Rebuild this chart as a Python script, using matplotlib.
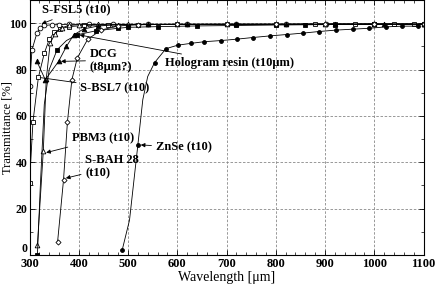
import matplotlib
matplotlib.use("Agg")
import matplotlib.pyplot as plt
from matplotlib.ticker import MultipleLocator

plt.rcParams['font.family'] = ['Liberation Serif', 'DejaVu Serif']
plt.rcParams['font.weight'] = 'bold'

# S-FSL5 (t10) - open circles
fsl5_wl = [300, 305, 315, 322, 330, 345, 360, 380, 420, 470, 540, 620, 720, 820, 902, 1000, 1100]
fsl5_t = [73, 88.5, 95.7, 98, 99, 99.3, 99.4, 99.5, 99.5, 99.5, 99.5, 99.5, 99.6, 99.6, 99.6, 99.6, 99.6]

# S-BSL7 (t10) - open squares
bsl7_wl = [300, 307, 318, 330, 340, 350, 362, 380, 410, 460, 520, 600, 700, 800, 880, 920, 960, 1000, 1040, 1081]
bsl7_t = [31, 57.5, 76.6, 87, 93, 96, 97.5, 98.5, 99, 99.3, 99.4, 99.5, 99.5, 99.5, 99.6, 99.6, 99.6, 99.6, 99.6, 99.6]

# PBM3 (t10) - open triangles
pbm3_wl = [316, 328, 334, 342, 352, 365, 380, 400, 440, 500, 600, 700, 800, 900, 1000, 1100]
pbm3_t = [4.3, 45, 76, 91.4, 95.5, 98, 99, 99.4, 99.5, 99.5, 99.5, 99.5, 99.5, 99.5, 99.6, 99.6]

# DCG (t8um?) - filled triangles
dcg_wl = [315, 332, 359, 375, 390, 410, 440, 480, 540, 620, 720, 820, 920, 1020, 1100]
dcg_t = [83.5, 75.6, 83.5, 90, 95, 97.5, 98.8, 99.3, 99.5, 99.5, 99.5, 99.5, 99.6, 99.6, 99.6]

# Hologram resin (t10um) - filled squares
holo_wl = [316, 322, 330, 340, 356, 375, 397, 435, 480, 500, 560, 640, 720, 801, 860, 920, 1000, 1100]
holo_t = [0, 30, 65, 80, 88.5, 92.5, 95, 96.7, 97.8, 98.2, 98.5, 98.8, 99, 99.2, 99.3, 99.4, 99.5, 99.5]
holo_marks = [0, 4, 6, 7, 8, 9, 10, 11, 12, 13, 14, 15, 16, 17]

# S-BAH 28 (t10) - open diamonds
bah_wl = [357, 369, 377, 386, 397, 418, 445, 480, 520, 600, 700, 800, 900, 1000, 1100]
bah_t = [5.7, 32.3, 57.5, 75.6, 85, 93, 97, 98.8, 99.3, 99.5, 99.5, 99.5, 99.6, 99.6, 99.6]

# ZnSe (t10) - filled circles
znse_wl = [488, 503, 520, 530, 540, 554, 577, 601, 628, 655, 689, 721, 753, 788, 822, 855, 888, 922, 956, 990, 1024, 1056, 1088]
znse_t = [2, 15, 47.5, 67, 77, 83, 89, 90.5, 91.3, 92, 92.5, 93.1, 93.8, 94.5, 95.1, 95.7, 96.4, 97, 97.4, 97.8, 98.4, 98.7, 98.7]
znse_marks = [0, 2, 5, 6, 7, 8, 9, 10, 11, 12, 13, 14, 15, 16, 17, 18, 19, 20, 21, 22]

fig = plt.figure(figsize=(4.36, 2.84), dpi=100)
ax = fig.add_axes([0.0677, 0.1021, 0.9037, 0.898])

lw = 0.6
ms = 3.4
ax.plot(fsl5_wl, fsl5_t, '-o', color='k', lw=lw, ms=ms, mfc='white', mew=0.6)
ax.plot(bsl7_wl, bsl7_t, '-s', color='k', lw=lw, ms=ms - 0.4, mfc='white', mew=0.6)
ax.plot(pbm3_wl, pbm3_t, '-^', color='k', lw=lw, ms=ms, mfc='white', mew=0.6)
ax.plot(dcg_wl, dcg_t, '-^', color='k', lw=lw, ms=ms, mfc='k', mew=0.6)
ax.plot(holo_wl, holo_t, '-s', color='k', lw=lw, ms=ms - 0.4, mfc='k', mew=0.6, markevery=holo_marks)
ax.plot(bah_wl, bah_t, '-D', color='k', lw=lw, ms=ms - 0.8, mfc='white', mew=0.6)
ax.plot(znse_wl, znse_t, '-o', color='k', lw=lw, ms=ms - 0.6, mfc='k', mew=0.6, markevery=znse_marks)

ax.set_xlim(300, 1100)
ax.set_ylim(0, 110)
ax.xaxis.set_major_locator(MultipleLocator(100))
ax.xaxis.set_minor_locator(MultipleLocator(20))
ax.yaxis.set_minor_locator(MultipleLocator(10))
ax.set_yticks([0, 20, 40, 60, 80, 100])
ax.tick_params(which='both', direction='in', top=True, right=True)
ax.tick_params(axis='x', pad=2, labelsize=9)
ax.tick_params(axis='y', pad=1.5, labelsize=8.5)
ax.tick_params(which='major', length=3.5, width=0.6)
ax.tick_params(which='minor', length=2, width=0.5)
ax.grid(True, which='major', color='#888888', ls=(0, (3, 2)), lw=0.6)
for s in ax.spines.values():
    s.set_linewidth(0.8)
# lift the "0" label a little so it clears the "300" below it
fig.canvas.draw()
ax.get_yticklabels()[0].set_va('bottom')

ax.set_xlabel('Wavelength [μm]', fontsize=10, labelpad=1)
ax.set_ylabel('Transmittance [%]', fontsize=9)
ax.yaxis.set_label_coords(-0.041, 0.5)

arr = dict(arrowstyle='-|>', color='k', lw=0.6, mutation_scale=6, shrinkA=1, shrinkB=1)
tf = dict(fontsize=9, fontweight='bold', va='center', ha='left')
ax.annotate('S-FSL5 (t10)', xy=(322, 99.5), xytext=(325, 105.5), arrowprops=arr, **tf)
ax.annotate('DCG\n(t8μm?)', xy=(361, 83.5), xytext=(422, 84), arrowprops=arr, linespacing=1.1, **tf)
ax.annotate('Hologram resin (t10μm)', xy=(399, 95), xytext=(576, 82.8), arrowprops=arr, **tf)
ax.annotate('S-BSL7 (t10)', xy=(319, 76.6), xytext=(403, 72), arrowprops=dict(arrowstyle='-', color='k', lw=0.6, shrinkA=1, shrinkB=1), **tf)
ax.annotate('PBM3 (t10)', xy=(331, 44), xytext=(386, 50.4), arrowprops=arr, **tf)
ax.annotate('S-BAH 28\n(t10)', xy=(371, 33), xytext=(413, 38), arrowprops=arr, linespacing=1.1, **tf)
ax.annotate('ZnSe (t10)', xy=(523, 47.5), xytext=(556, 46.5), arrowprops=arr, **tf)

fig.savefig('out.png', dpi=100)
